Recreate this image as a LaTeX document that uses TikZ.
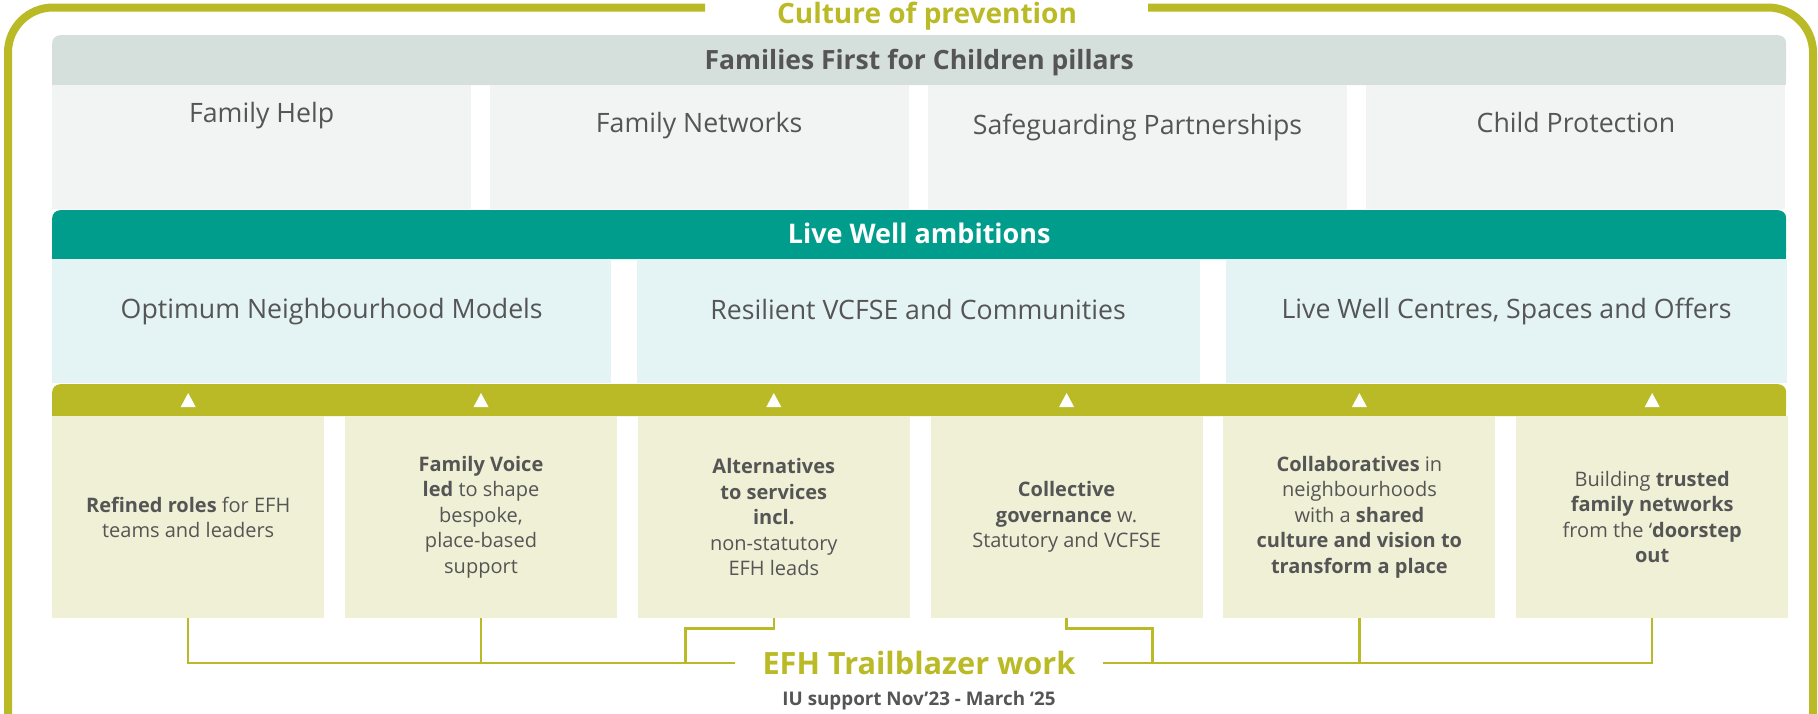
\documentclass[tikz,border=0pt]{standalone}
\usepackage{fontspec}
\setmainfont{Open Sans}
\usetikzlibrary{positioning}
\definecolor{olivegreen}{RGB}{185,186,37}
\definecolor{headgrey}{RGB}{213,223,220}
\definecolor{pillargrey}{RGB}{242,244,243}
\definecolor{livewell}{RGB}{0,156,140}
\definecolor{palecyan}{RGB}{228,243,243}
\definecolor{cream}{RGB}{240,240,214}
\definecolor{inkgrey}{RGB}{85,85,85}
\tikzset{
  pillar/.style={fill=pillargrey,anchor=north west,minimum width=419pt,minimum height=124pt,inner sep=0pt},
  ambition/.style={fill=palecyan,anchor=north west,minimum width=561pt,minimum height=124pt,inner sep=0pt},
  workbox/.style={fill=cream,anchor=north west,minimum width=272pt,minimum height=202pt,inner sep=0pt,
    align=center,text=inkgrey,font=\fontsize{20}{25.5}\selectfont},
  bandhead/.style={anchor=north west,minimum width=1734pt,inner sep=0pt,rounded corners=8pt},
  bigtext/.style={text=inkgrey,inner sep=0pt,font=\fontsize{26.7}{30}\selectfont},
  link/.style={draw=olivegreen,line width=2.5pt}
}
\begin{document}
\begin{tikzpicture}[x=1pt,y=-1pt]
\useasboundingbox (0,0) rectangle (1818,713);
\clip (0,0) rectangle (1818,713);
% outer frame
\draw[olivegreen,line width=8pt,rounded corners=45pt] (705,7.5) -- (8,7.5) -- (8,760);
\draw[olivegreen,line width=8pt,rounded corners=45pt] (1148,7.5) -- (1813,7.5) -- (1813,760);
\node[anchor=base,text=olivegreen,inner sep=0pt,font=\fontsize{28}{30}\selectfont\bfseries] (culture) at (927,23) {Culture of prevention};

% pillars
\node[bandhead,fill=headgrey,minimum height=50pt] (pillarhead) at (52,35) {};
\fill[headgrey] (pillarhead.west) rectangle (pillarhead.south east);
\node[text=inkgrey,anchor=base,font=\fontsize{26.5}{30}\selectfont\bfseries] at ([yshift=-9pt]pillarhead.center) {Families First for Children pillars};
\node[pillar] (p1) at (52,85) {};
\node[pillar,right=18pt of p1] (p2) {};
\node[pillar,right=19pt of p2] (p3) {};
\node[pillar,right=19pt of p3] (p4) {};
\node[bigtext] at ([yshift=-31pt]p1.north) {Family Help};
\node[bigtext] at ([yshift=-41pt]p2.north) {Family Networks};
\node[bigtext] at ([yshift=-42pt]p3.north) {Safeguarding Partnerships};
\node[bigtext] at ([yshift=-37pt]p4.north) {Child Protection};

% live well
\node[bandhead,fill=livewell,minimum height=49pt] (lwhead) at (52,210) {};
\fill[livewell] (lwhead.west) rectangle (lwhead.south east);
\node[text=white,anchor=base,font=\fontsize{27}{30}\selectfont\bfseries] at ([yshift=-9pt]lwhead.center) {Live Well ambitions};
\node[ambition,minimum width=559pt] (a1) at (52,259) {};
\node[ambition,minimum width=563pt,right=25pt of a1] (a2) {};
\node[ambition,right=26pt of a2] (a3) {};
\node[bigtext] at ([yshift=-53pt]a1.north) {Optimum Neighbourhood Models};
\node[bigtext] at ([yshift=-50pt]a2.north) {Resilient VCFSE and Communities};
\node[bigtext] at ([yshift=-52pt]a3.north) {Live Well Centres, Spaces and Offers};

% trailblazer work
\node[bandhead,fill=olivegreen,minimum height=32pt] (twhead) at (52,384) {};
\fill[olivegreen] (twhead.west) rectangle (twhead.south east);
\node[workbox] (b1) at (52,416) {\textbf{Refined roles} for EFH\\teams and leaders};
\node[workbox,right=20.4pt of b1] (b2) {\textbf{Family Voice}\\\textbf{led} to shape\\bespoke,\\place-based\\support};
\node[workbox,right=20.4pt of b2] (b3) {\textbf{Alternatives}\\\textbf{to services}\\\textbf{incl.}\\non-statutory\\EFH leads};
\node[workbox,right=20.4pt of b3] (b4) {\textbf{Collective}\\\textbf{governance} w.\\Statutory and VCFSE};
\node[workbox,right=20.4pt of b4] (b5) {\textbf{Collaboratives} in\\neighbourhoods\\with a \textbf{shared}\\\textbf{culture and vision to}\\\textbf{transform a place}};
\node[workbox,right=20.4pt of b5] (b6) {Building \textbf{trusted}\\\textbf{family networks}\\from the ‘\textbf{doorstep}\\\textbf{out}};
\foreach \i in {1,...,6}
  \fill[white] ([xshift=-7.5pt,yshift=9pt]b\i.north) -- ([xshift=7.5pt,yshift=9pt]b\i.north) -- ([yshift=23pt]b\i.north) -- cycle;

\node[text=olivegreen,inner xsep=27pt,inner ysep=0pt,font=\fontsize{30.7}{32}\selectfont\bfseries] (efh) at (919,663) {EFH Trailblazer work};
\node[text=inkgrey,inner sep=0pt,below=16pt of efh,font=\fontsize{18.8}{20}\selectfont\bfseries] (iu) {IU support Nov’23 - March ‘25};

% connectors
\draw[link] (b1.south) |- (efh.west);
\draw[link] (b2.south) -- (b2.south |- efh.west);
\draw[link] (b3.south) -- ++(0,10) -| ([xshift=-50pt]efh.west);
\draw[link] (b4.south) -- ++(0,10) -| ([xshift=50pt]efh.east);
\draw[link] (b5.south) -- (b5.south |- efh.east);
\draw[link] (efh.east) -| (b6.south);
\end{tikzpicture}
\end{document}
